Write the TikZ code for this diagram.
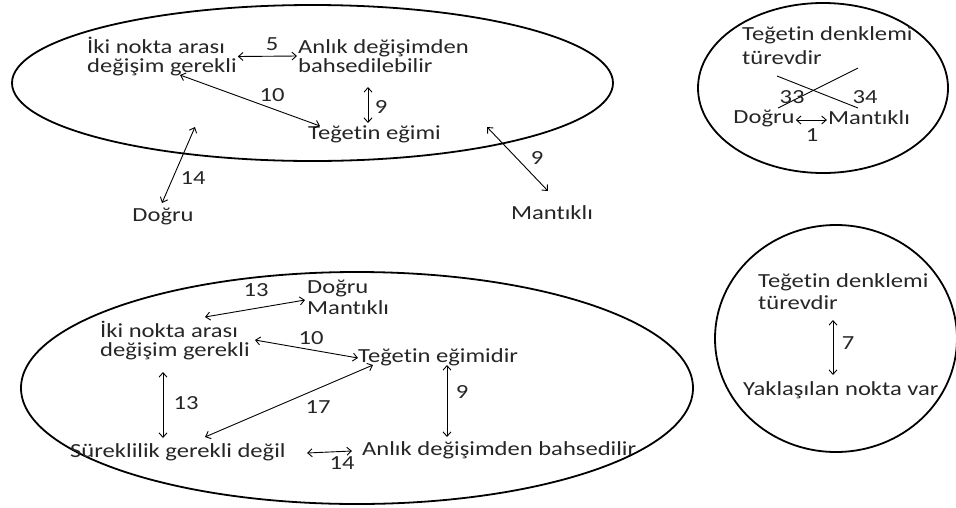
\documentclass[tikz,border=0pt]{standalone}
\usepackage{fontspec}
\setmainfont{Carlito}[FakeStretch=1.23, Ligatures={NoCommon,NoContextual}]
\usetikzlibrary{arrows.meta}
\tikzset{
  txt/.style={inner sep=0pt, align=left, font=\fontsize{20}{19}\selectfont, text=black!85},
  num/.style={inner sep=0pt, font=\fontsize{20}{19}\selectfont, text=black!85},
  arr/.style={line width=0.9pt, {Straight Barb[length=4.5pt,width=8pt]}-{Straight Barb[length=4.5pt,width=8pt]}},
  ring/.style={line width=1.8pt},
  plain/.style={line width=0.9pt}
}
\begin{document}
\begin{tikzpicture}[x=1pt,y=-1pt]
\useasboundingbox (0,0) rectangle (956,507);
\fill[white] (0,0) rectangle (956,507);

% ---------- top-left ellipse ----------
\draw[ring] (312.5,83) ellipse [x radius=300.5, y radius=78];
\node[txt, anchor=west] (iki1) at (87,56.5) {İki nokta arası\\değişim gerekli};
\node[txt, anchor=west] (anlik1) at (298,56) {Anlık değişimden\\bahsedilebilir};
\node[txt, anchor=west] (teget1) at (308,134) {Teğetin eğimi};
\node[txt] (dogru1) at (163,216) {Doğru};
\node[txt] (mant1) at (552,213) {Mantıklı};
\coordinate (c10a) at (180,75);
\coordinate (c10b) at (320,126);
\coordinate (c9a) at (368,87);
\coordinate (c9b) at (368,123);
\coordinate (c14a) at (195,127);
\coordinate (c14b) at (162,203);
\coordinate (c9ra) at (487,127);
\coordinate (c9rb) at (548,191);
\draw[arr] ([xshift=1pt]iki1.east) -- ([xshift=-1pt]anlik1.west);
\draw[arr] (c10a) -- (c10b);
\draw[arr] (c9a) -- (c9b);
\draw[arr] (c14a) -- (c14b);
\draw[arr] (c9ra) -- (c9rb);
\node[num] (n5) at (272,44) {5};
\node[num] (n10a) at (272,95) {10};
\node[num] (n9a) at (381,107) {9};
\node[num] (n14a) at (193,178) {14};
\node[num] (n9b) at (537,158) {9};

% ---------- top-right circle ----------
\draw[ring] (823,88) ellipse [x radius=125, y radius=85];
\node[txt, anchor=west, font=\fontsize{20}{24}\selectfont] (ted1) at (742,46) {Teğetin denklemi\\türevdir};
\node[txt] (dogru3) at (764,118) {Doğru};
\node[txt] (mant3) at (869,118) {Mantıklı};
\coordinate (x1a) at (777,76);
\coordinate (x1b) at (858,108);
\coordinate (x2a) at (778,108);
\coordinate (x2b) at (858,68);
\draw[plain] (x1a) -- (x1b);
\draw[plain] (x2a) -- (x2b);
\draw[arr] ([shift={(1pt,-2pt)}]dogru3.east) -- ([shift={(-1pt,-2pt)}]mant3.west);
\node[num] (n33) at (792,97) {33};
\node[num] (n34) at (865,97) {34};
\node[num] (n1) at (812,135) {1};

% ---------- bottom-left ellipse ----------
\draw[ring] (357,388) ellipse [x radius=336, y radius=116];
\node[txt, anchor=west, font=\fontsize{20}{21}\selectfont] (dm2) at (307,297.5) {Doğru\\Mantıklı};
\node[txt, anchor=west] (iki2) at (100,341) {İki nokta arası\\değişim gerekli};
\node[txt, anchor=west] (teget2) at (358,357) {Teğetin eğimidir};
\node[txt, anchor=west] (surek) at (70,452) {Süreklilik gerekli değil};
\node[txt, anchor=west] (anlik2) at (362,450) {Anlık değişimden bahsedilir};
\coordinate (b13a) at (205,317);
\coordinate (b13b) at (305,300);
\coordinate (b10a) at (255,340);
\coordinate (b10b) at (358,358);
\coordinate (b13la) at (163,372);
\coordinate (b13lb) at (163,438);
\coordinate (b17a) at (373,365);
\coordinate (b17b) at (205,437);
\coordinate (b9a) at (447,365);
\coordinate (b9b) at (447,437);
\coordinate (b14a) at (307,453);
\coordinate (b14b) at (352,451);
\draw[arr] (b13a) -- (b13b);
\draw[arr] (b10a) -- (b10b);
\draw[arr] (b13la) -- (b13lb);
\draw[arr] (b17a) -- (b17b);
\draw[arr] (b9a) -- (b9b);
\draw[arr] (b14a) -- (b14b);
\node[num] (m13a) at (256,290) {13};
\node[num] (m10) at (311,338) {10};
\node[num] (m13b) at (186,403) {13};
\node[num] (m17) at (318,407) {17};
\node[num] (m9) at (462,392) {9};
\node[num] (m14) at (342,463) {14};

% ---------- bottom-right circle ----------
\draw[ring] (836,338.5) ellipse [x radius=121, y radius=113.5];
\node[txt, anchor=west, font=\fontsize{20}{22}\selectfont] (ted2) at (758,292) {Teğetin denklemi\\türevdir};
\node[txt, anchor=west] (yak) at (743,390) {Yaklaşılan nokta var};
\coordinate (r7a) at (833,320);
\coordinate (r7b) at (833,375);
\draw[arr] (r7a) -- (r7b);
\node[num] (r7) at (848,343) {7};
\end{tikzpicture}
\end{document}
